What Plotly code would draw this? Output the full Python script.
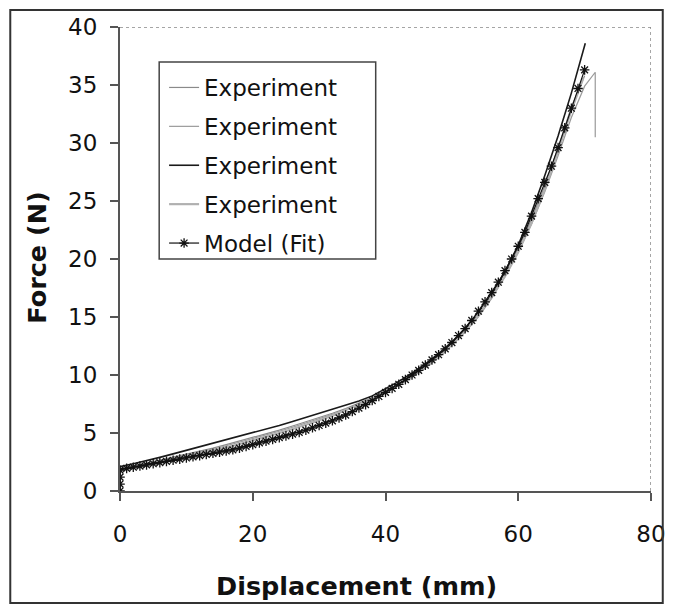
import plotly.graph_objects as go

# ---- data ----
model_x = [0, 0, 0, 0, 1, 2, 3, 4, 5, 6, 7, 8, 9, 10, 11, 12, 13, 14, 15, 16, 17, 18, 19, 20,
           21, 22, 23, 24, 25, 26, 27, 28, 29, 30, 31, 32, 33, 34, 35, 36, 37, 38, 39, 40,
           41, 42, 43, 44, 45, 46, 47, 48, 49, 50, 51, 52, 53, 54, 55, 56, 57, 58, 59, 60,
           61, 62, 63, 64, 65, 66, 67, 68, 69, 70]
model_y = [0.0, 0.6, 1.2, 1.8, 1.95, 2.05, 2.15, 2.25, 2.35, 2.45, 2.55, 2.65, 2.75, 2.85,
           2.95, 3.05, 3.15, 3.25, 3.35, 3.45, 3.55, 3.7, 3.85, 4.0, 4.15, 4.3, 4.45, 4.6,
           4.75, 4.9, 5.05, 5.25, 5.45, 5.65, 5.85, 6.05, 6.3, 6.55, 6.85, 7.15, 7.45, 7.8,
           8.15, 8.5, 8.85, 9.2, 9.6, 10.0, 10.4, 10.85, 11.3, 11.75, 12.25, 12.8, 13.4, 14.0,
           14.7, 15.5, 16.3, 17.1, 18.0, 19.0, 20.0, 21.1, 22.3, 23.7, 25.2, 26.6, 28.0,
           29.6, 31.3, 33.0, 34.7, 36.3]

exp1_x = [0, 0, 2, 4, 6, 8, 10, 12, 14, 16, 18, 20, 22, 24, 26, 28, 30, 32, 34, 36, 38, 40,
          42, 44, 46, 48, 50, 52, 54, 56, 58, 60, 62, 64, 66, 68, 70]
exp1_y = [0.0, 1.9, 2.15, 2.4, 2.65, 2.9, 3.15, 3.4, 3.7, 4.0, 4.3, 4.6, 4.9, 5.25, 5.6, 5.95,
          6.3, 6.7, 7.1, 7.55, 8.05, 8.6, 9.2, 9.9, 10.7, 11.65, 12.75, 13.95, 15.3, 16.9, 18.8,
          20.9, 23.4, 26.3, 29.6, 33.1, 35.8]

exp2_x = [0, 0, 2, 4, 6, 8, 10, 12, 14, 16, 18, 20, 22, 24, 26, 28, 30, 32, 34, 36, 38, 40,
          42, 44, 46, 48, 50, 52, 54, 56, 58, 60, 62, 64, 66, 68, 70, 71.6, 71.6]
exp2_y = [0.0, 1.8, 2.05, 2.3, 2.55, 2.8, 3.05, 3.3, 3.6, 3.9, 4.2, 4.5, 4.8, 5.15, 5.5, 5.85,
          6.2, 6.6, 7.0, 7.45, 7.95, 8.5, 9.1, 9.8, 10.6, 11.5, 12.55, 13.7, 15.0, 16.6, 18.5,
          20.6, 23.0, 25.8, 28.9, 32.2, 34.9, 36.1, 30.5]

exp3_x = [0, 0, 2, 4, 6, 8, 10, 12, 14, 16, 18, 20, 22, 24, 26, 28, 30, 32, 34, 36, 38, 40,
          42, 44, 46, 48, 50, 52, 54, 56, 58, 60, 62, 64, 66, 68, 70.1]
exp3_y = [0.0, 2.1, 2.35, 2.6, 2.9, 3.2, 3.5, 3.8, 4.1, 4.4, 4.7, 5.0, 5.3, 5.65, 6.0, 6.35,
          6.7, 7.0, 7.35, 7.75, 8.2, 8.8, 9.45, 10.15, 10.95, 11.85, 12.85, 14.05, 15.4, 17.0,
          18.9, 21.2, 24.0, 27.2, 30.6, 34.3, 38.6]

exp4_x = [0, 0, 2, 4, 6, 8, 10, 12, 14, 16, 18, 20, 22, 24, 26, 28, 30, 32, 34, 36, 38, 40,
          42, 44, 46, 48, 50, 52, 54, 56, 58, 60, 62, 64, 66, 68, 69.8]
exp4_y = [0.0, 1.7, 1.95, 2.2, 2.45, 2.7, 2.95, 3.2, 3.45, 3.75, 4.05, 4.35, 4.65, 5.0, 5.35,
          5.7, 6.1, 6.5, 6.95, 7.45, 8.0, 8.6, 9.25, 9.95, 10.75, 11.65, 12.7, 13.85, 15.2,
          16.8, 18.5, 20.6, 23.1, 26.0, 29.3, 32.8, 35.6]

series_names = ["Experiment", "Experiment", "Experiment", "Experiment", "Model (Fit)"]
x_ticks = [0, 20, 40, 60, 80]
y_ticks = [0, 5, 10, 15, 20, 25, 30, 35, 40]

FONT = "DejaVu Sans"

fig = go.Figure()
exp_styles = [("#8a8a8a", 1.2), ("#9a9a9a", 1.2), ("#1a1a1a", 1.6), ("#b0b0b0", 2.2)]
for i, (xs, ys) in enumerate([(exp1_x, exp1_y), (exp2_x, exp2_y), (exp3_x, exp3_y), (exp4_x, exp4_y)]):
    col, w = exp_styles[i]
    fig.add_trace(go.Scatter(x=xs, y=ys, mode="lines", name=series_names[i],
                             legendgroup=f"g{i}",
                             line=dict(color=col, width=w)))
fig.add_trace(go.Scatter(x=model_x, y=model_y, mode="lines+markers", name=series_names[4],
                         legendgroup="g4",
                         line=dict(color="#111111", width=1.2),
                         marker=dict(symbol="asterisk-open", size=8,
                                     line=dict(color="#111111", width=1.3))))

fig.update_layout(
    width=678, height=605,
    margin=dict(l=120, r=16, t=27, b=114),
    paper_bgcolor="white", plot_bgcolor="white",
    font=dict(family=FONT, size=23, color="#111111"),
    showlegend=True,
    legend=dict(x=(165 - 120) / 542, y=(491 - 66) / 464, xanchor="left", yanchor="top",
                bgcolor="rgba(0,0,0,0)", borderwidth=0,
                font=dict(family=FONT, size=23, color="#111111"),
                traceorder="grouped", tracegroupgap=6,
                itemwidth=30),
    xaxis=dict(range=[0, 80], tickvals=x_ticks, showgrid=False, zeroline=False,
               showline=True, linecolor="#555555", linewidth=2,
               ticks="outside", ticklen=8, tickwidth=1.5, tickcolor="#555555",
               ticklabelstandoff=13,
               tickfont=dict(family=FONT, size=23, color="#111111")),
    yaxis=dict(range=[0, 40], tickvals=y_ticks, showgrid=False, zeroline=False,
               showline=True, linecolor="#555555", linewidth=2,
               ticks="outside", ticklen=8, tickwidth=1.5, tickcolor="#555555",
               ticklabelstandoff=8,
               tickfont=dict(family=FONT, size=23, color="#111111")),
)

# dotted top / right plot borders
fig.add_shape(type="line", xref="x", yref="y", x0=0, x1=80, y0=40, y1=40,
              line=dict(color="#888888", width=1.5, dash="dot"))
fig.add_shape(type="line", xref="x", yref="y", x0=80, x1=80, y0=0, y1=40,
              line=dict(color="#888888", width=1.5, dash="dot"))
# legend box
fig.add_shape(type="rect", xref="paper", yref="paper",
              x0=(160 - 120) / 542, x1=(381 - 120) / 542,
              y0=(491 - 259) / 464, y1=(491 - 62) / 464,
              line=dict(color="#444444", width=1.5), fillcolor="rgba(0,0,0,0)")
# outer chart frame
fig.add_shape(type="rect", xref="paper", yref="paper",
              x0=(8 - 120) / 542, x1=(674 - 120) / 542,
              y0=(491 - 603) / 464, y1=(491 - 10) / 464,
              line=dict(color="#333333", width=2), fillcolor="rgba(0,0,0,0)")

# axis titles
fig.add_annotation(text="<b>Displacement (mm)</b>", xref="paper", yref="paper",
                   x=(361 - 120) / 542, y=(491 - 586) / 464, showarrow=False,
                   xanchor="center", yanchor="middle",
                   font=dict(family=FONT, size=25.5, color="#111111"))
fig.add_annotation(text="<b>Force (N)</b>", xref="paper", yref="paper",
                   x=(35 - 120) / 542, y=(491 - 258) / 464, showarrow=False,
                   xanchor="center", yanchor="middle", textangle=-90,
                   font=dict(family=FONT, size=25.5, color="#111111"))

fig.write_html("out.html")
